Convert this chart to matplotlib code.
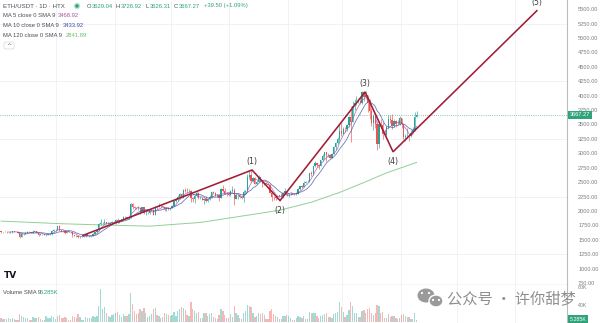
import matplotlib
matplotlib.use("Agg")
import matplotlib.pyplot as plt
import matplotlib.transforms as mtransforms
from matplotlib.patches import Ellipse, FancyBboxPatch
import numpy as np
import pandas as pd

# ---------------- data: ETH/USDT daily, 2023-09-01 .. 2024-04-09 ----------------
closes = [
    # Sep
    1630, 1635, 1640, 1630, 1632, 1635, 1645, 1635, 1635, 1615, 1550, 1595, 1605, 1625, 1640,
    1635, 1620, 1640, 1645, 1620, 1585, 1595, 1595, 1580, 1590, 1595, 1600, 1655, 1670, 1670,
    # Oct
    1735, 1665, 1655, 1645, 1610, 1645, 1635, 1630, 1580, 1565, 1565, 1540, 1550, 1555, 1560,
    1600, 1565, 1565, 1565, 1605, 1630, 1665, 1765, 1785, 1790, 1800, 1780, 1780, 1795, 1810, 1815,
    # Nov
    1845, 1800, 1835, 1855, 1890, 1900, 1885, 1890, 2120, 2075, 2050, 2045, 2050, 1980, 2060,
    1960, 1960, 1965, 2015, 2020, 1935, 2065, 2060, 2080, 2085, 2065, 2025, 2050, 2030, 2050,
    # Dec
    2090, 2165, 2195, 2240, 2295, 2230, 2360, 2345, 2340, 2350, 2225, 2200, 2260, 2315, 2220,
    2225, 2195, 2215, 2175, 2200, 2240, 2325, 2310, 2265, 2270, 2230, 2380, 2345, 2300, 2290, 2280,
    # Jan
    2350, 2355, 2210, 2270, 2270, 2240, 2220, 2330, 2345, 2585, 2620, 2525, 2575, 2470, 2510,
    2585, 2530, 2470, 2490, 2470, 2455, 2310, 2240, 2235, 2220, 2265, 2270, 2255, 2315, 2340, 2285,
    # Feb
    2305, 2310, 2295, 2290, 2300, 2375, 2425, 2420, 2485, 2500, 2505, 2660, 2640, 2775, 2825,
    2805, 2785, 2880, 2945, 3015, 2965, 2975, 2925, 2990, 3110, 3175, 3240, 3385, 3340,
    # Mar
    3430, 3420, 3490, 3630, 3550, 3815, 3870, 3885, 3910, 3880, 4065, 3980, 4005, 3880, 3735,
    3520, 3645, 3515, 3160, 3515, 3490, 3335, 3325, 3455, 3590, 3585, 3480, 3560, 3510, 3505, 3620,
    # Apr
    3500, 3275, 3295, 3304.6, 3300, 3350, 3399.56, 3627.77, 3667.27,
]
highs = [
    1660, 1640, 1650, 1650, 1640, 1655, 1660, 1650, 1640, 1640, 1620, 1620, 1620, 1640, 1650,
    1650, 1640, 1670, 1660, 1650, 1620, 1600, 1600, 1600, 1600, 1600, 1620, 1670, 1680, 1690,
    1745, 1750, 1670, 1665, 1650, 1660, 1645, 1640, 1630, 1590, 1580, 1570, 1565, 1565, 1570,
    1615, 1605, 1590, 1570, 1620, 1640, 1675, 1790, 1860, 1810, 1860, 1805, 1800, 1805, 1820, 1820,
    1860, 1870, 1840, 1860, 1910, 1910, 1900, 1900, 2135, 2135, 2090, 2060, 2080, 2060, 2065,
    2070, 1995, 1975, 2020, 2030, 2030, 2090, 2090, 2135, 2095, 2090, 2065, 2070, 2075, 2055,
    2100, 2170, 2220, 2275, 2310, 2305, 2375, 2400, 2405, 2375, 2355, 2245, 2270, 2335, 2320,
    2265, 2245, 2220, 2260, 2225, 2275, 2335, 2340, 2320, 2290, 2280, 2395, 2445, 2390, 2320, 2325,
    2355, 2430, 2390, 2290, 2295, 2270, 2265, 2355, 2370, 2645, 2717, 2715, 2585, 2580, 2545,
    2615, 2590, 2545, 2505, 2480, 2475, 2470, 2345, 2265, 2240, 2275, 2280, 2305, 2320, 2390, 2350,
    2310, 2320, 2315, 2310, 2330, 2390, 2435, 2445, 2520, 2520, 2540, 2665, 2685, 2780, 2865,
    2835, 2810, 2890, 2985, 3030, 3020, 3005, 2985, 3000, 3120, 3195, 3285, 3485, 3520,
    3450, 3450, 3500, 3650, 3820, 3900, 3940, 3995, 3935, 3960, 4085, 4090, 4080, 4020, 3935,
    3780, 3680, 3615, 3565, 3560, 3590, 3540, 3400, 3475, 3665, 3670, 3680, 3600, 3575, 3570, 3650,
    3620, 3505, 3340, 3445, 3320, 3400, 3460, 3725, 3726.92,
]
lows = [
    1620, 1625, 1630, 1620, 1620, 1620, 1620, 1630, 1630, 1610, 1530, 1545, 1590, 1600, 1620,
    1630, 1610, 1610, 1630, 1615, 1570, 1580, 1590, 1575, 1570, 1580, 1590, 1590, 1640, 1660,
    1670, 1655, 1640, 1635, 1600, 1610, 1630, 1625, 1550, 1560, 1555, 1525, 1535, 1550, 1550,
    1555, 1560, 1555, 1545, 1565, 1600, 1620, 1660, 1750, 1770, 1780, 1770, 1775, 1775, 1785, 1790,
    1780, 1790, 1790, 1830, 1845, 1870, 1860, 1865, 1880, 2030, 2035, 2025, 2020, 1945, 1975,
    1950, 1935, 1940, 1950, 1990, 1930, 1930, 2040, 2060, 2070, 2050, 2000, 2000, 2020, 2020,
    2045, 2085, 2150, 2175, 2210, 2225, 2220, 2320, 2310, 2330, 2155, 2160, 2145, 2235, 2215,
    2210, 2195, 2115, 2160, 2160, 2195, 2230, 2285, 2260, 2250, 2180, 2225, 2330, 2285, 2265, 2265,
    2265, 2335, 2100, 2205, 2210, 2225, 2210, 2160, 2300, 2330, 2550, 2505, 2500, 2460, 2460,
    2510, 2510, 2420, 2455, 2460, 2455, 2305, 2170, 2195, 2185, 2215, 2250, 2240, 2230, 2300, 2265,
    2245, 2275, 2285, 2270, 2280, 2295, 2360, 2400, 2415, 2480, 2495, 2495, 2600, 2625, 2755,
    2760, 2730, 2775, 2865, 2900, 2870, 2930, 2910, 2920, 2990, 3050, 3170, 3200, 3300,
    3335, 3375, 3390, 3460, 3200, 3545, 3750, 3830, 3880, 3860, 3860, 3915, 3940, 3720, 3590,
    3475, 3410, 3445, 3060, 3100, 3435, 3245, 3305, 3295, 3430, 3530, 3420, 3460, 3460, 3490, 3495,
    3440, 3240, 3215, 3270, 3210, 3285, 3365, 3380, 3626.31,
]
# daily volume, thousands of ETH
volumes = [
    10, 8, 7, 7, 9, 8, 9, 8, 6, 6, 19, 14, 11, 9, 10, 6, 6, 12, 10, 9, 12, 8, 5, 6, 13, 9, 10, 15, 12, 8,
    14, 16, 10, 9, 11, 9, 6, 5, 14, 11, 9, 18, 11, 6, 6, 12, 10, 9, 10, 14, 12, 14, 38, 75, 30, 35, 20, 14, 12, 16, 18,
    22, 24, 16, 12, 18, 14, 15, 18, 66, 42, 25, 18, 22, 30, 26, 32, 22, 12, 14, 18, 30, 32, 16, 14, 10, 12, 22, 18, 16, 14,
    16, 24, 14, 26, 30, 34, 32, 28, 16, 14, 47, 30, 25, 22, 24, 10, 10, 22, 20, 14, 18, 22, 12, 10, 8, 16, 30, 26, 16, 10, 10,
    18, 12, 38, 22, 16, 10, 8, 20, 26, 40, 38, 34, 20, 12, 14, 22, 18, 20, 16, 8, 8, 26, 30, 18, 14, 12, 8, 8, 14, 14, 16,
    14, 10, 6, 6, 10, 14, 12, 10, 14, 8, 8, 24, 20, 22, 20, 14, 10, 14, 16, 18, 20, 12, 12, 10, 18, 20, 24, 47, 35,
    24, 12, 16, 28, 45, 38, 22, 20, 12, 12, 26, 28, 22, 30, 32, 22, 16, 22, 40, 36, 20, 24, 10, 10, 18, 12, 14, 14, 10, 8, 10,
    16, 18, 14, 12, 12, 8, 8, 20, 5.285,
]
first_open = 1645.0
last_open = 3629.04

# 120-day moving average (trend line)
ma120_idx = [0, 32, 53, 79, 106, 132, 148, 165, 180, 195, 205, 221]
ma120_val = [1823, 1778, 1757, 1735, 1800, 1930, 2010, 2150, 2320, 2520, 2660, 2841.89]

# Elliott wave count drawn on the chart
wave_idx = [43.6, 133.5, 148.4, 193.6, 208.5, 285.0]
wave_price = [1575, 2710, 2180, 4065, 3026, 5476]
wave_labels = ["", "(1)", "(2)", "(3)", "(4)", "(5)"]
wave_label_side = [0, 1, -1, 1, -1, 1]

# month starts (day index) used for vertical grid
month_days = [30, 31, 30, 31, 31, 29, 31, 30, 31]

price_ticks = list(range(750, 5501, 250))
price_grid = [1250, 2250, 3250, 4250, 5250]
vol_ticks = [40, 80]

header = "ETH/USDT · 1D · HTX"
ohlc_labels = ["O", "H", "L", "C"]
ohlc_values = ["3629.04", "3726.92", "3626.31", "3667.27"]
change_text = "+39.50 (+1.09%)"
ma_names = ["MA 5 close 0 SMA 9", "MA 10 close 0 SMA 9", "MA 120 close 0 SMA 9"]
ma_colors = ["#a855a0", "#3d4fa8", "#6fbf73"]

# ---------------- derived series ----------------
n = len(closes)
opens = [first_open] + closes[:-1]
opens[-1] = last_open
s = pd.Series(closes, dtype=float)
ma5 = s.rolling(5).mean()
ma10 = s.rolling(10).mean()
idx = np.arange(n)

# ---------------- figure ----------------
W, H = 600, 323
fig = plt.figure(figsize=(6.0, 3.23), dpi=100)
fig.patch.set_facecolor("white")

def fx(px):
    return px / W

def fy(py):
    return 1 - py / H

axis_x = 567
pane_bottom = 285
ax = fig.add_axes([0, fy(pane_bottom), fx(axis_x), pane_bottom / H])
vax = fig.add_axes([0, 0, fx(axis_x), (H - pane_bottom) / H])

xmin, xmax = -0.53, 301
ax.set_xlim(xmin, xmax)
vax.set_xlim(xmin, xmax)
ax.set_ylim(714, 5661)
vax.set_ylim(-2.0, 85)

GRID = "#eef0f4"
TXT = "#7b7e85"
DARK = "#4a4d55"
GREEN = "#2fa37a"
UP, DOWN = "#26a69a", "#ef5350"
UI = "Liberation Sans"

for a in (ax, vax):
    a.set_facecolor("white")
    for sp in a.spines.values():
        sp.set_visible(False)
    a.tick_params(left=False, bottom=False, labelbottom=False, labelleft=False)

# grid
pos = 0
for d in month_days:
    pos += d
    ax.axvline(pos - 0.5, color=GRID, lw=0.6, zorder=0)
    vax.axvline(pos - 0.5, color=GRID, lw=0.6, zorder=0)
for g in price_grid:
    ax.axhline(g, color=GRID, lw=0.6, zorder=0)

# right price axis
ax.yaxis.tick_right()
ax.set_yticks(price_ticks)
ax.set_yticklabels([f"{t:.2f}" for t in price_ticks])
ax.tick_params(axis="y", right=False, labelright=True, labelsize=4.1,
               labelcolor=TXT, pad=4.5)
for lab in ax.get_yticklabels():
    lab.set_fontfamily(UI)
for a in (ax, vax):
    a.spines["right"].set_visible(True)
    a.spines["right"].set_color("#b9bcc4")
    a.spines["right"].set_linewidth(0.8)
ax.spines["bottom"].set_visible(True)
ax.spines["bottom"].set_color("#b9bcc4")
ax.spines["bottom"].set_linewidth(0.9)

# candles
cols = [UP if c >= o else DOWN for o, c in zip(opens, closes)]
ax.vlines(idx, lows, highs, colors=cols, lw=0.45, zorder=3)
body_bottom = np.minimum(opens, closes)
body_h = np.maximum(np.abs(np.array(closes) - np.array(opens)), 4)
ax.bar(idx, body_h, bottom=body_bottom, width=0.68, color=cols, lw=0, zorder=4)

# moving averages
ax.plot(idx, ma5, color=ma_colors[0], lw=0.55, alpha=0.8, zorder=5)
ax.plot(idx, ma10, color=ma_colors[1], lw=0.55, alpha=0.8, zorder=5)
ax.plot(ma120_idx, ma120_val, color=ma_colors[2], lw=0.7, alpha=0.75, zorder=2)

# wave count
ax.plot(wave_idx, wave_price, color="#a01e35", lw=1.15, zorder=6,
        solid_joinstyle="miter", clip_on=False)
for wi, wp, wl, side in zip(wave_idx, wave_price, wave_labels, wave_label_side):
    if not wl:
        continue
    off = 8.5 if side > 0 else -9.5
    ax.annotate(wl, (wi, wp), xytext=(0, off * 72 / 100), textcoords="offset points",
                ha="center", va="center", fontsize=5.6, color="#3a3a3a",
                annotation_clip=False, zorder=7)

# last price line and tag
last_close = closes[-1]
ax.axhline(last_close, color="#6bb59a", lw=0.6, ls=(0, (1, 1.6)), zorder=1)
trans = mtransforms.blended_transform_factory(ax.transAxes, ax.transData)
ax.text(1.0 + 2.5 / axis_x, last_close, f"{last_close:.2f}", transform=trans,
        ha="left", va="center", fontsize=4.1, color="white", zorder=10, family=UI,
        bbox=dict(boxstyle="square,pad=0.3", fc=GREEN, ec="none"), clip_on=False)

# volume
vcols = [UP if c >= o else DOWN for o, c in zip(opens, closes)]
vax.bar(idx, volumes, width=0.7, color=vcols, alpha=0.42, lw=0, zorder=3)
vax.yaxis.tick_right()
vax.set_yticks(vol_ticks)
vax.set_yticklabels([f"{t}K" for t in vol_ticks])
vax.tick_params(axis="y", right=False, labelright=True, labelsize=3.8,
                labelcolor=TXT, pad=4.5)
for lab in vax.get_yticklabels():
    lab.set_fontfamily(UI)
vtrans = mtransforms.blended_transform_factory(vax.transAxes, vax.transData)
vax.text(1.0 + 2.5 / axis_x, 6.5, f"{volumes[-1]:.3f}K", transform=vtrans,
         ha="left", va="center", fontsize=3.8, color="white", zorder=10, family=UI,
         bbox=dict(boxstyle="square,pad=0.3", fc=GREEN, ec="none"), clip_on=False)

# ---------------- legend texts ----------------
FS = 4.2
fig.text(fx(3), fy(6), header, fontsize=FS + 0.2, color=DARK, va="center", family=UI)
fig.add_artist(Ellipse((fx(77), fy(6)), 5 / W, 5 / H, fc=GREEN, ec="#bfe3d4", lw=1.0))
x = 87
for lab, val in zip(ohlc_labels, ohlc_values):
    fig.text(fx(x), fy(6), lab, fontsize=FS, color=DARK, va="center", family=UI)
    fig.text(fx(x + 4.6), fy(6), val, fontsize=FS, color=GREEN, va="center", family=UI)
    x += 29
fig.text(fx(x + 1), fy(6), change_text, fontsize=FS, color=GREEN, va="center", family=UI)

ma_last = [ma5.iloc[-1], ma10.iloc[-1], ma120_val[-1]]
val_x = [58, 63, 66]
for k, (nm, col, val) in enumerate(zip(ma_names, ma_colors, ma_last)):
    yy = fy(15.5 + 10 * k)
    fig.text(fx(3), yy, nm, fontsize=FS, color=DARK, va="center", family=UI)
    fig.text(fx(val_x[k]), yy, f"{val:.2f}", fontsize=FS, color=col, va="center", family=UI)

fig.add_artist(FancyBboxPatch((fx(4), fy(49)), 10 / W, 7 / H,
                              boxstyle="round,pad=0,rounding_size=0.004",
                              fc="white", ec="#d5d7dc", lw=0.5))
fig.text(fx(9), fy(45.5), "^", fontsize=4.5, color="#555", ha="center", va="center")

# chart logo
fig.text(fx(4), fy(276), "TV", fontsize=6.5, fontweight="bold", color="#131722",
         va="center", family="DejaVu Sans")

# volume legend
fig.text(fx(3), fy(293), "Volume SMA 9", fontsize=FS, color=DARK, va="center", family=UI)
fig.text(fx(40), fy(293), f"{volumes[-1]:.3f}K", fontsize=FS, color=GREEN,
         va="center", family=UI)

# account watermark
fig.add_artist(Ellipse((fx(426), fy(295.5)), 17 / W, 14 / H, fc="#9a9a9a", ec="none"))
fig.add_artist(Ellipse((fx(436), fy(301)), 14 / W, 12 / H, fc="#9a9a9a", ec="white", lw=1.0))
for ex, ey in [(422, 293), (429, 293), (433, 300), (439, 300)]:
    fig.add_artist(Ellipse((fx(ex), fy(ey)), 2.2 / W, 2.2 / H, fc="white", ec="none"))
fig.text(fx(447), fy(299), "公众号 · 许你甜梦", fontsize=11, color="#8f8f8f",
         va="center", family=["Noto Sans CJK SC", "DejaVu Sans"])

fig.savefig("out.png", dpi=100, facecolor="white")
